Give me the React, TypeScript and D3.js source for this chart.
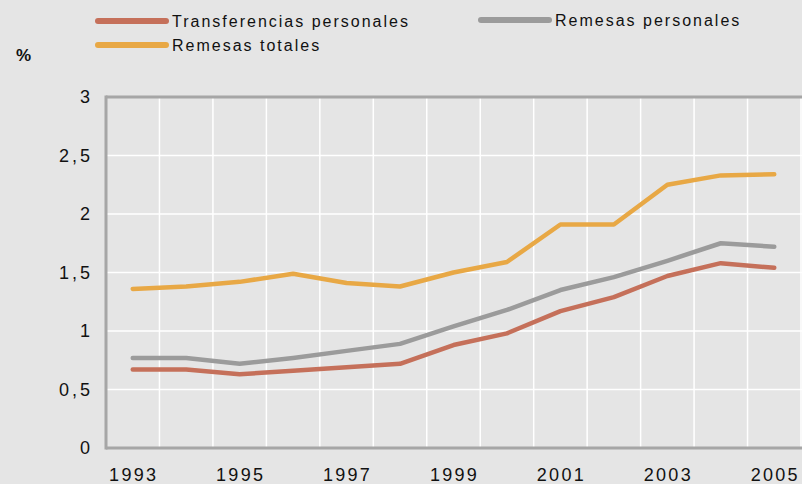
import React from "react";
import * as d3 from "d3";

const years = ["1993","1994","1995","1996","1997","1998","1999","2000","2001","2002","2003","2004","2005"];
const transferencias = [0.67,0.67,0.63,0.66,0.69,0.72,0.88,0.98,1.17,1.29,1.47,1.58,1.54];
const remesasPersonales = [0.77,0.77,0.72,0.77,0.83,0.89,1.04,1.18,1.35,1.46,1.60,1.75,1.72];
const remesasTotales = [1.36,1.38,1.42,1.49,1.41,1.38,1.50,1.59,1.91,1.91,2.25,2.33,2.34];
const yTicks = [0,0.5,1,1.5,2,2.5,3];
const yTickLabels = ["0","0,5","1","1,5","2","2,5","3"];
const xLabelYears = ["1993","1995","1997","1999","2001","2003","2005"];

const seriesNames = ["Transferencias personales","Remesas personales","Remesas totales"];
const seriesColors = ["#c5705a","#9b9b9b","#e8a845"];

export default function App() {
  const W = 802, H = 484;
  const left = 106, right = 801, top = 97, bottom = 448;
  const x = d3.scaleBand<string>().domain(years).range([left, right]);
  const y = d3.scaleLinear().domain([0, 3]).range([bottom, top]);
  const cx = (yr: string) => (x(yr) as number) + x.bandwidth() / 2;
  const line = d3.line<number>().x((_, i) => cx(years[i])).y(d => y(d));
  const data = [transferencias, remesasPersonales, remesasTotales];
  const font = "'Liberation Sans', Arial, sans-serif";
  const legendPos = [
    { x1: 98, y: 21 },
    { x1: 481, y: 20 },
    { x1: 98, y: 45 },
  ];
  return (
    <svg width={W} height={H} style={{ position: "absolute", left: 0, top: 0, background: "#e5e5e5" }} fontFamily={font}>
      <rect x={0} y={0} width={W} height={H} fill="#e5e5e5" />
      {years.map((yr, i) => (
        <line key={"v" + i} x1={(x(yr) as number) + x.bandwidth()} x2={(x(yr) as number) + x.bandwidth()} y1={top} y2={bottom} stroke="#fff" strokeWidth={1.5} />
      ))}
      {yTicks.slice(1, -1).map((t, i) => (
        <line key={"h" + i} x1={left} x2={W} y1={y(t)} y2={y(t)} stroke="#fff" strokeWidth={1.5} />
      ))}
      <line x1={left} x2={W} y1={top} y2={top} stroke="#a6a6a6" strokeWidth={3} />
      <line x1={left} x2={W} y1={bottom} y2={bottom} stroke="#a6a6a6" strokeWidth={3} />
      <line x1={left} x2={left} y1={top - 1.5} y2={bottom + 1.5} stroke="#a6a6a6" strokeWidth={3} />
      {data.map((d, i) => (
        <path key={"s" + i} d={line(d) || ""} fill="none" stroke={seriesColors[i]} strokeWidth={4.5} strokeLinecap="round" strokeLinejoin="round" />
      ))}
      {yTicks.map((t, i) => (
        <text key={"yt" + i} x={93} y={y(t)} dy="0.35em" textAnchor="end" fontSize={18} letterSpacing={3} fill="#111">{yTickLabels[i]}</text>
      ))}
      {xLabelYears.map((yr) => (
        <text key={"xt" + yr} x={cx(yr) + 1} y={481} textAnchor="middle" fontSize={18} letterSpacing={2.3} fill="#111">{yr}</text>
      ))}
      <text x={16} y={61} fontSize={17} fontWeight="bold" fill="#111">%</text>
      {seriesNames.map((n, i) => (
        <g key={"l" + i}>
          <line x1={legendPos[i].x1} x2={legendPos[i].x1 + 68} y1={legendPos[i].y} y2={legendPos[i].y} stroke={seriesColors[i]} strokeWidth={6} strokeLinecap="round" />
          <text x={legendPos[i].x1 + 74} y={legendPos[i].y} dy="0.35em" fontSize={16} letterSpacing={2} fill="#111">{n}</text>
        </g>
      ))}
    </svg>
  );
}
